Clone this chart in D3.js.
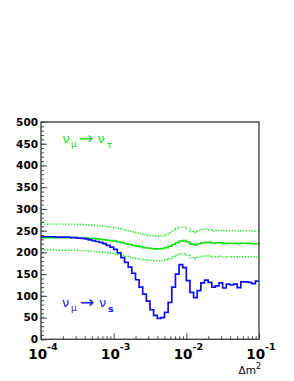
<!DOCTYPE html>
<html>
<head>
<meta charset="utf-8">
<script src="https://cdn.jsdelivr.net/npm/d3@7"></script>
<style>
  body { margin: 0; background: #fff; }
  svg { display: block; }
  text { font-family: "DejaVu Sans", sans-serif; }
</style>
</head>
<body>
<div id="chart"></div>
<script>
// histogram binning: 60 bins of equal log width between 1e-4 and 1e-1
const logMin = -4, logMax = -1, nBins = 60;

// nu_mu -> nu_s (blue histogram)
const sterile = [
  236, 236, 236, 236, 235, 235, 235, 235, 234, 234,
  233, 232, 231, 229, 227, 225, 223, 220, 216, 212,
  207, 199, 188, 177, 166, 152, 137, 120, 104, 88,
  68, 55, 48, 50, 62, 85, 120, 150, 172, 165,
  135, 108, 96, 112, 130, 136, 131, 120, 123, 130,
  118, 127, 125, 127, 119, 132, 132, 131, 128, 134
];

// nu_mu -> nu_tau (green, central)
const tau = [
  234, 234, 234, 234, 234, 234, 234, 234, 234, 234,
  233, 233, 233, 232, 232, 231, 230, 229, 228, 227,
  226, 224, 222, 220, 218, 216, 215, 213, 211, 210,
  209, 208, 208, 209, 211, 214, 218, 222, 226, 227,
  224, 219, 217, 220, 222, 223, 223, 221, 222, 222,
  220, 221, 221, 221, 220, 221, 221, 221, 220, 220
];

// nu_mu -> nu_tau band (green dotted)
const tauHigh = [
  265, 265, 265, 265, 265, 265, 265, 265, 265, 265,
  264, 264, 263, 263, 262, 262, 261, 260, 259, 258,
  257, 255, 253, 251, 249, 247, 245, 243, 241, 239,
  238, 237, 237, 238, 241, 245, 250, 255, 258, 258,
  254, 248, 246, 250, 253, 254, 252, 249, 250, 251,
  249, 250, 250, 250, 249, 250, 250, 250, 249, 249
];
const tauLow = [
  206, 206, 206, 206, 205, 205, 205, 205, 205, 205,
  204, 204, 204, 203, 203, 202, 201, 200, 199, 198,
  196, 195, 193, 191, 189, 187, 186, 184, 183, 182,
  181, 180, 180, 181, 183, 186, 190, 194, 197, 197,
  193, 188, 186, 189, 191, 192, 191, 189, 190, 191,
  189, 190, 190, 190, 189, 190, 190, 190, 190, 189
];

const yMajor = d3.range(0, 501, 50);
const yMinor = d3.range(0, 501, 10);
const decades = [-4, -3, -2, -1];

const W = 294, H = 381;
const frame = { left: 41, right: 259, top: 122, bottom: 339.3 };

const svg = d3.select("#chart").append("svg")
    .attr("width", W)
    .attr("height", H);

const x = d3.scaleLog().domain([1e-4, 1e-1]).range([frame.left, frame.right]);
const y = d3.scaleLinear().domain([0, 500]).range([frame.bottom, frame.top]);

// bin lower edges
const step = (logMax - logMin) / nBins;
const edges = d3.range(nBins + 1).map(i => Math.pow(10, logMin + i * step));

function histPoints(vals) {
  const pts = vals.map((v, i) => [edges[i], v]);
  pts.push([edges[nBins], vals[nBins - 1]]);
  return pts;
}

const line = d3.line()
    .x(d => x(d[0]))
    .y(d => y(d[1]))
    .curve(d3.curveStepAfter);

// curves
[tauHigh, tauLow].forEach(vals => {
  svg.append("path")
      .attr("d", line(histPoints(vals)))
      .attr("fill", "none")
      .attr("stroke", "#22ee22")
      .attr("stroke-width", 1.4)
      .attr("stroke-dasharray", "1.5,1.5");
});

svg.append("path")
    .attr("d", line(histPoints(tau)))
    .attr("fill", "none")
    .attr("stroke", "#11e611")
    .attr("stroke-width", 1.6);

svg.append("path")
    .attr("d", line(histPoints(sterile)))
    .attr("fill", "none")
    .attr("stroke", "#1010ee")
    .attr("stroke-width", 1.7);

// y axis (ticks point inward)
svg.append("g")
    .attr("transform", `translate(${frame.left},0)`)
    .call(d3.axisLeft(y).tickValues(yMinor).tickSize(-3).tickFormat(""))
    .call(g => g.select(".domain").remove())
    .call(g => g.selectAll("line").attr("stroke", "#444"));

svg.append("g")
    .attr("transform", `translate(${frame.left},0)`)
    .call(d3.axisLeft(y).tickValues(yMajor).tickSize(-6).tickPadding(3))
    .call(g => g.select(".domain").remove())
    .call(g => g.selectAll("line").attr("stroke", "#444"))
    .call(g => g.selectAll("text")
        .attr("fill", "#000")
        .style("font-family", "DejaVu Sans, sans-serif")
        .style("font-weight", "bold")
        .style("font-size", "10.5px"));

// x axis (log)
const xMinor = [];
decades.slice(0, -1).forEach(e => {
  for (let k = 2; k <= 9; k++) xMinor.push(k * Math.pow(10, e));
});

svg.append("g")
    .attr("transform", `translate(0,${frame.bottom})`)
    .call(d3.axisBottom(x).tickValues(xMinor).tickSize(-3).tickFormat(""))
    .call(g => g.select(".domain").remove())
    .call(g => g.selectAll("line").attr("stroke", "#444"));

svg.append("g")
    .attr("transform", `translate(0,${frame.bottom})`)
    .call(d3.axisBottom(x).tickValues(decades.map(e => Math.pow(10, e))).tickSize(-6).tickFormat(""))
    .call(g => g.select(".domain").remove())
    .call(g => g.selectAll("line").attr("stroke", "#444"));

const xl = svg.append("g").selectAll("text")
    .data(decades)
    .join("text")
    .attr("x", d => x(Math.pow(10, d)) + 2)
    .attr("y", 359)
    .attr("text-anchor", "middle")
    .style("font-weight", "bold")
    .style("font-size", "13.5px")
    .attr("fill", "#000");
xl.append("tspan").text("10");
xl.append("tspan")
    .attr("dy", -9)
    .style("font-size", "9.5px")
    .text(d => String(d));

// frame
svg.append("rect")
    .attr("x", frame.left)
    .attr("y", frame.top)
    .attr("width", frame.right - frame.left)
    .attr("height", frame.bottom - frame.top)
    .attr("fill", "none")
    .attr("stroke", "#444")
    .attr("stroke-width", 1.4);

// x title
const xt = svg.append("text")
    .attr("x", 261)
    .attr("y", 374)
    .attr("text-anchor", "end")
    .style("font-size", "10.5px")
    .attr("fill", "#000");
xt.append("tspan").text("Δm");
xt.append("tspan").attr("dy", -5).style("font-size", "8px").text("2");

// legend labels
function reaction(xs, base, sub, color, subWeight) {
  const t = svg.append("text").attr("fill", color).style("font-size", "13px");
  t.append("tspan").attr("x", xs[0]).attr("y", base).text("ν");
  t.append("tspan").attr("x", xs[1]).attr("y", base + 3.5).style("font-size", "9px").text("μ");
  t.append("tspan").attr("x", xs[2]).attr("y", base + 1).style("font-size", "17px").text("→");
  t.append("tspan").attr("x", xs[3]).attr("y", base).text("ν");
  t.append("tspan").attr("x", xs[4]).attr("y", base + 4.5)
      .style("font-size", "9.5px").style("font-weight", subWeight).text(sub);
}
reaction([62.5, 71, 79, 97.5, 106.5], 143, "τ", "#22dd22", "normal");
reaction([62, 71, 80, 99, 108], 307, "s", "#1515ee", "bold");
</script>
</body>
</html>
